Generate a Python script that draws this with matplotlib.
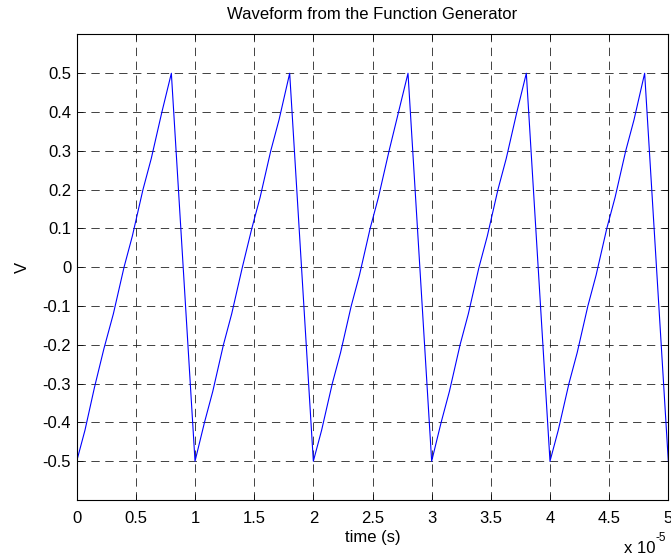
import matplotlib.pyplot as plt

plt.rcParams['font.family'] = ['Liberation Sans', 'DejaVu Sans']
plt.rcParams['lines.scale_dashes'] = False

# time in units of 1e-5 s, voltage in V
time = [0.00, 0.07, 0.15, 0.23, 0.31, 0.40, 0.47, 0.56, 0.63, 0.72, 0.80, 0.83, 0.98,
        1.00, 1.08, 1.15, 1.24, 1.31, 1.40, 1.48, 1.55, 1.64, 1.71, 1.80, 1.83, 1.98,
        2.00, 2.07, 2.16, 2.23, 2.32, 2.39, 2.48, 2.55, 2.64, 2.72, 2.80, 2.83, 2.98,
        3.00, 3.08, 3.15, 3.24, 3.31, 3.40, 3.47, 3.56, 3.63, 3.72, 3.80, 3.83, 3.98,
        4.00, 4.07, 4.16, 4.23, 4.32, 4.39, 4.48, 4.55, 4.64, 4.71, 4.80, 4.83, 4.98,
        5.00]
volts = [-0.50, -0.42, -0.31, -0.21, -0.12, 0.00, 0.08, 0.20, 0.28, 0.40, 0.50, 0.35, -0.40,
         -0.50, -0.40, -0.32, -0.20, -0.12, 0.00, 0.10, 0.18, 0.30, 0.38, 0.50, 0.35, -0.40,
         -0.50, -0.42, -0.30, -0.22, -0.10, -0.02, 0.10, 0.18, 0.30, 0.40, 0.50, 0.35, -0.40,
         -0.50, -0.40, -0.32, -0.20, -0.12, 0.00, 0.08, 0.20, 0.28, 0.40, 0.50, 0.35, -0.40,
         -0.50, -0.42, -0.30, -0.22, -0.10, -0.02, 0.10, 0.18, 0.30, 0.38, 0.50, 0.35, -0.40,
         -0.50]

xticks = [0, 0.5, 1, 1.5, 2, 2.5, 3, 3.5, 4, 4.5, 5]
xticklabels = ['0', '0.5', '1', '1.5', '2', '2.5', '3', '3.5', '4', '4.5', '5']
yticks = [-0.5, -0.4, -0.3, -0.2, -0.1, 0, 0.1, 0.2, 0.3, 0.4, 0.5]
yticklabels = ['-0.5', '-0.4', '-0.3', '-0.2', '-0.1', '0', '0.1', '0.2', '0.3', '0.4', '0.5']

fs = 12

fig = plt.figure(figsize=(6.71, 5.56), dpi=100)
ax = fig.add_axes([0.1143, 0.1007, 0.8817, 0.8373])

ax.plot(time, volts, color='#0000ff', lw=0.8)

ax.set_xlim(0, 5)
ax.set_ylim(-0.6, 0.6)
ax.set_xticks(xticks)
ax.set_xticklabels(xticklabels)
ax.set_yticks(yticks)
ax.set_yticklabels(yticklabels)
ax.tick_params(direction='in', length=4, width=0.5, labelsize=fs,
               top=True, right=True)
ax.tick_params(axis='x', pad=8)
ax.tick_params(axis='y', pad=4)

ax.grid(True, color='#222222', linestyle=(0, (6, 4)), lw=0.6)
for s in ax.spines.values():
    s.set_linewidth(0.8)

ax.set_title('Waveform from the Function Generator', fontsize=fs, pad=11)
ax.set_xlabel('time (s)', fontsize=fs, labelpad=3)
ax.set_ylabel('V', fontsize=fs, labelpad=9)

# exponent label, MATLAB style
fig.text(655 / 671, 1 - 553 / 556, 'x 10', fontsize=fs, ha='right', va='baseline')
fig.text(656 / 671, 1 - 541 / 556, '-5', fontsize=8.5, ha='left', va='baseline')

fig.savefig('out.png', dpi=100)
